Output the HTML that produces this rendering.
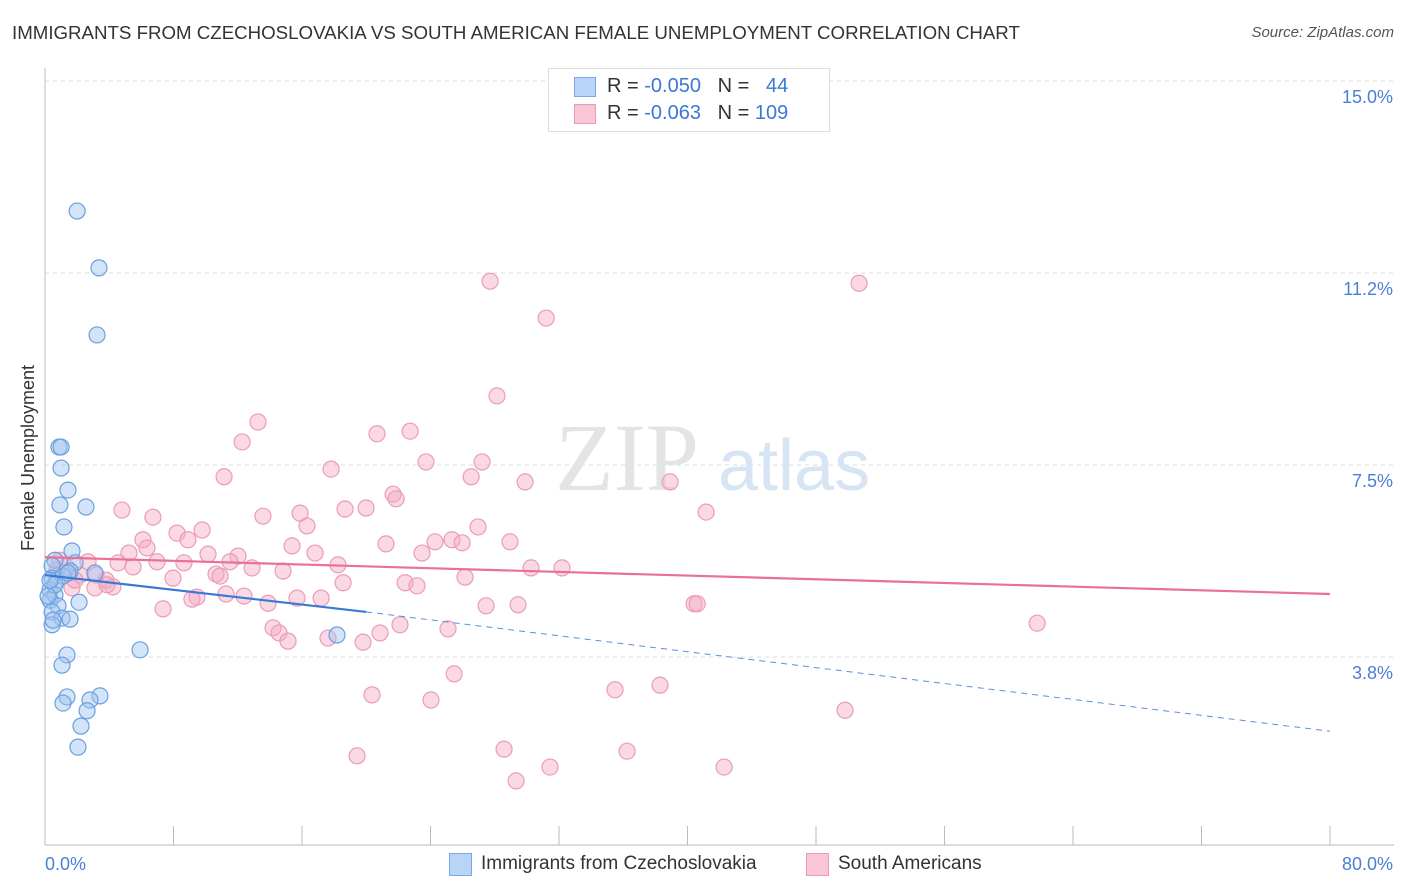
<!DOCTYPE html>
<html><head><meta charset="utf-8"><style>
body{margin:0;background:#fff;font-family:"Liberation Sans",sans-serif;}
#wrap{position:relative;width:1406px;height:892px;overflow:hidden;}
.t{position:absolute;white-space:nowrap;}
</style></head><body>
<div id="wrap">
<div class="t" style="left:12px;top:22px;font-size:18.7px;color:#333;">IMMIGRANTS FROM CZECHOSLOVAKIA VS SOUTH AMERICAN FEMALE UNEMPLOYMENT CORRELATION CHART</div>
<div class="t" style="right:12px;top:24px;font-size:15px;color:#555;font-style:italic;">Source: ZipAtlas.com</div>
<svg id="plot" width="1406" height="892" style="position:absolute;left:0;top:0"></svg>
</div>
<script>
const xTicks=[0,8,16,24,32,40,48,56,64,72,80];
const yTicks=[3.75,7.5,11.25,15];
const yTickLabels=["3.8%","7.5%","11.2%","15.0%"];
const xEdgeLabels=["0.0%","80.0%"];
const blueX=[2.0,3.36,3.24,0.87,1.0,1.0,1.43,2.55,0.93,1.18,1.68,0.62,0.44,1.87,3.11,1.56,0.44,0.75,1.12,0.31,0.62,0.31,2.12,0.81,0.44,1.06,1.56,0.44,18.18,5.92,1.37,1.06,1.37,3.42,2.8,1.12,2.62,2.24,2.05,0.62,0.31,0.19,0.5,1.43];
const blueY=[12.46,11.35,10.04,7.85,7.85,7.44,7.01,6.68,6.72,6.29,5.82,5.64,5.53,5.59,5.39,5.43,5.29,5.25,5.33,5.06,4.96,4.86,4.82,4.75,4.63,4.51,4.49,4.38,4.18,3.89,3.79,3.59,2.97,2.99,2.91,2.85,2.7,2.4,1.99,5.16,5.25,4.94,4.47,5.39];
const pinkX=[27.71,50.68,31.2,28.14,13.26,22.73,20.67,12.27,23.72,27.21,17.81,11.15,26.53,29.89,38.92,21.67,21.86,4.79,13.57,6.72,15.88,18.68,19.99,41.16,16.31,26.96,8.22,9.78,6.1,8.9,15.38,21.23,24.28,25.34,25.97,28.95,5.23,6.35,10.15,12.02,16.81,23.47,2.68,4.55,6.97,8.65,11.52,12.89,14.82,18.24,30.26,32.19,5.48,1.31,2.18,3.18,3.8,7.97,10.65,10.9,26.15,22.42,23.16,18.56,1.68,3.11,4.23,3.86,11.27,9.46,12.39,9.15,13.89,15.69,17.19,7.35,27.46,29.45,40.41,40.6,61.77,14.2,14.57,15.13,17.62,19.8,20.86,22.1,25.09,25.47,20.36,24.03,35.49,38.29,49.81,28.58,36.24,19.43,31.44,42.28,29.33,0.75,0.93,1.87];
const pinkY=[11.09,11.05,10.37,8.85,8.34,8.16,8.11,7.95,7.56,7.56,7.42,7.27,7.27,7.17,7.17,6.93,6.84,6.62,6.5,6.48,6.56,6.64,6.66,6.58,6.31,6.29,6.17,6.23,6.04,6.04,5.92,5.96,6.0,6.04,5.98,6.0,5.78,5.88,5.76,5.72,5.78,5.78,5.61,5.59,5.61,5.59,5.61,5.49,5.43,5.55,5.49,5.49,5.51,5.51,5.35,5.35,5.25,5.29,5.37,5.33,5.31,5.2,5.14,5.2,5.1,5.1,5.12,5.16,4.98,4.92,4.94,4.88,4.8,4.9,4.9,4.69,4.75,4.77,4.79,4.79,4.41,4.32,4.22,4.06,4.12,4.04,4.22,4.38,4.3,3.42,3.01,2.91,3.11,3.2,2.71,1.95,1.91,1.82,1.6,1.6,1.33,5.45,5.64,5.25];
const blueLine=[5.35,4.63,2.3];
const pinkLine=[5.70,4.98];

const NS="http://www.w3.org/2000/svg";
const svg=document.getElementById('plot');
const X=v=>45+v*(1285/80);
const Y=v=>849-v*51.2;
function mk(tag,attrs,parent){const e=document.createElementNS(NS,tag);for(const k in attrs)e.setAttribute(k,attrs[k]);(parent||svg).appendChild(e);return e;}
yTicks.forEach((v,i)=>{
 const g=mk('line',{x1:45,x2:1394,y1:Y(v),y2:Y(v),stroke:'#ddd','stroke-dasharray':'4,4'});
 
 
 const t=mk('text',{x:1393,y:Y(v)+22,'text-anchor':'end','font-size':18,fill:'#4a7fd4','font-family':'Liberation Sans, sans-serif'});
 t.textContent=yTickLabels[i];
 
 
});
const ax=mk('line',{x1:45,x2:45,y1:68,y2:845,stroke:'#bbb'});


const bx=mk('line',{x1:45,x2:1394,y1:845,y2:845,stroke:'#bbb'});


xTicks.forEach(v=>{
 const tk=mk('line',{x1:X(v),x2:X(v),y1:826,y2:845,stroke:'#bbb'});
 
 
});
[[0,'start'],[80,'end']].forEach((p,i)=>{
 const t=mk('text',{x:i?1393:45,y:870,'text-anchor':p[1],'font-size':18,fill:'#4a7fd4','font-family':'Liberation Sans, sans-serif'});
 t.textContent=xEdgeLabels[i];
 
 
});
const yt=mk('text',{x:34,y:458,'text-anchor':'middle','font-size':18,fill:'#333',transform:'rotate(-90 34 458)','font-family':'Liberation Sans, sans-serif'});
yt.textContent='Female Unemployment';


const wm=mk('text',{x:555,y:490,'font-size':96,fill:'#e4e4e4','font-family':'Liberation Serif, serif'});
wm.textContent='ZIP';


const wm2=mk('text',{x:718,y:490,'font-size':72,fill:'#d6e4f4','font-family':'Liberation Sans, sans-serif'});
wm2.textContent='atlas';


pinkX.forEach((x,i)=>{
 const c=mk('circle',{cx:X(x),cy:Y(pinkY[i]),r:8,fill:'rgba(245,170,196,0.45)',stroke:'#eb9bb8','stroke-width':1.2});
 
 
});
blueX.forEach((x,i)=>{
 const c=mk('circle',{cx:X(x),cy:Y(blueY[i]),r:8,fill:'rgba(160,196,240,0.45)',stroke:'#6b9fe0','stroke-width':1.2});
 
 
});
const pl=mk('line',{x1:X(0),y1:Y(pinkLine[0]),x2:X(80),y2:Y(pinkLine[1]),stroke:'#e8709a','stroke-width':2.2});


const bl=mk('line',{x1:X(0),y1:Y(blueLine[0]),x2:X(20),y2:Y(blueLine[1]),stroke:'#3a78d8','stroke-width':2.2});


const bd=mk('line',{x1:X(20),y1:Y(blueLine[1]),x2:X(80),y2:Y(blueLine[2]),stroke:'#5a8fe0','stroke-width':1,'stroke-dasharray':'6,5'});


</script>
<div class="t" style="left:548px;top:68px;width:280px;height:62px;border:1px solid #ddd;background:#fff;">
 <div style="position:absolute;left:25px;top:8px;width:20px;height:18px;background:#b8d4f6;border:1px solid #7aa8e6;"></div>
 <div class="t" style="left:58px;top:6px;font-size:20px;color:#333;">R = <span style="color:#3a78d8">-0.050</span>&nbsp;&nbsp;&nbsp;N = &nbsp;<span style="color:#3a78d8">&nbsp;44</span></div>
 <div style="position:absolute;left:25px;top:35px;width:20px;height:18px;background:#f9c6d6;border:1px solid #eb9bb8;"></div>
 <div class="t" style="left:58px;top:33px;font-size:20px;color:#333;">R = <span style="color:#3a78d8">-0.063</span>&nbsp;&nbsp;&nbsp;N = <span style="color:#3a78d8">109</span></div>
</div>
<div style="position:absolute;left:449px;top:853px;width:21px;height:21px;background:#b8d4f6;border:1px solid #7aa8e6;"></div>
<div class="t" style="left:481px;top:853px;font-size:19px;color:#333;">Immigrants from Czechoslovakia</div>
<div style="position:absolute;left:806px;top:853px;width:21px;height:21px;background:#f9c6d6;border:1px solid #eb9bb8;"></div>
<div class="t" style="left:838px;top:853px;font-size:19px;color:#333;">South Americans</div>
</body></html>
